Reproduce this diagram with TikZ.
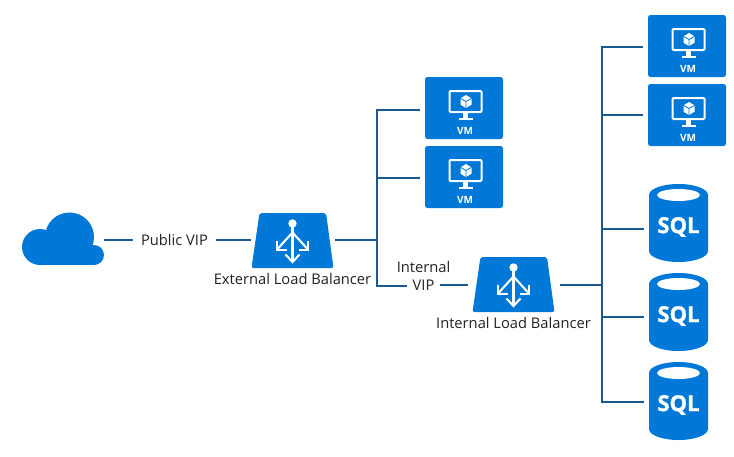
\documentclass[tikz,border=0pt]{standalone}
\usepackage{fontspec}
\setmainfont{Open Sans}
\usetikzlibrary{arrows.meta}
\definecolor{azure}{HTML}{0078D7}
\definecolor{wire}{HTML}{1A5A8E}
\definecolor{labeltext}{HTML}{222222}
\tikzset{
  wireline/.style={draw=wire,line width=1.9pt},
  vmbox/.style={fill=azure,rounded corners=2.5pt,minimum width=78pt,minimum height=62pt,inner sep=0pt,outer xsep=5pt,outer ysep=0pt},
  vmlabel/.style={text=white,font=\bfseries\fontsize{10}{11}\selectfont,inner sep=0pt},
  glyph/.style={draw=white,line width=2pt},
  sqlhold/.style={minimum width=59pt,minimum height=78pt,inner sep=0pt,outer xsep=5pt,outer ysep=0pt},
  sqlword/.style={text=white,font=\bfseries\fontsize{22}{24}\selectfont\addfontfeatures{FakeBold=1.2},inner sep=0pt},
  lbhold/.style={minimum width=82pt,minimum height=55pt,inner sep=0pt,outer sep=1pt},
  lbarrow/.style={draw=white,line width=2.1pt},
  caption/.style={text=labeltext,font=\fontsize{14.7}{16}\selectfont,inner sep=0pt},
  viplabel/.style={caption,inner xsep=7.5pt}
}
\newcommand{\vmglyph}[1]{%
  \begin{scope}[shift={(#1.center)}]
    \draw[glyph,rounded corners=1pt] (-14.5,-17) rectangle (17.5,4);
    \fill[white] (-.8,4) rectangle (3.8,10);
    \fill[white] (-5.5,9.5) rectangle (9,12);
    \fill[white] (2,-13) -- (7.5,-9.7) -- (7.5,-3.3) -- (2,0) -- (-3.5,-3.3) -- (-3.5,-9.7) -- cycle;
    \draw[azure,line width=.8pt] (-3.5,-9.7) -- (2,-6.5) -- (7.5,-9.7) (2,-6.5) -- (2,0);
  \end{scope}}
\newcommand{\sqlglyph}[1]{%
  \begin{scope}[shift={(#1.center)}]
    \fill[azure] (-29.5,-28) arc[start angle=180,end angle=360,x radius=29.5,y radius=11]
      -- (29.5,28) arc[start angle=0,end angle=180,x radius=29.5,y radius=11] -- cycle;
    \fill[white] (0,-28) ellipse[x radius=21.5,y radius=6];
  \end{scope}}
\newcommand{\lbglyph}[1]{%
  \begin{scope}[shift={(#1.center)}]
    \fill[azure,rounded corners=2pt] (-33,-27.5) -- (33.5,-27.5) -- (41,27.5) -- (-41,27.5) -- cycle;
    \fill[white] (0,-17) circle[radius=4.2];
    \draw[lbarrow] (0,-16) -- (0,21);
    \draw[lbarrow] (0,-8) -- (-15,8.5) (0,-8) -- (15,8.5);
    \draw[lbarrow] (-7,14) -- (0,21.5) -- (7,14);
    \draw[lbarrow] (-15.5,0) -- (-15.5,9.5) -- (-6,9.5);
    \draw[lbarrow] (15.5,0) -- (15.5,9.5) -- (6,9.5);
  \end{scope}}
\begin{document}
\begin{tikzpicture}[x=1pt,y=-1pt]
\useasboundingbox (0,0) rectangle (734,456);
% cloud
\node[minimum width=82pt,minimum height=52pt,inner sep=0pt] (cloud) at (63,239.5) {};
\fill[azure] (69.5,237) circle[radius=24.5];
\fill[azure] (40,247) circle[radius=18];
\fill[azure] (94,255) circle[radius=10];
\fill[azure] (40,245) rectangle (94,265);
% load balancers
\node[lbhold] (extlb) at (292.5,240.5) {};
\lbglyph{extlb}
\node[caption] (extcap) at (292.5,279) {External Load Balancer};
\node[lbhold,outer xsep=5pt] (intlb) at (513.5,284.5) {};
\lbglyph{intlb}
\node[caption] (intcap) at (513.5,323) {Internal Load Balancer};
% labels
\node[viplabel] (pubvip) at (174.5,240) {Public VIP};
\node[caption] (intword) at (423.5,267) {Internal};
\node[viplabel,inner xsep=5pt] (intvip) at (423.5,285.5) {VIP};
% VMs
\node[vmbox] (vma) at (464,108) {};
\node[vmbox] (vmb) at (464,177) {};
\node[vmbox] (vmc) at (687,46) {};
\node[vmbox] (vmd) at (687,115) {};
\vmglyph{vma}\vmglyph{vmb}\vmglyph{vmc}\vmglyph{vmd}
\node[vmlabel] (lva) at (465,131) {VM};
\node[vmlabel] (lvb) at (465,200) {VM};
\node[vmlabel] (lvc) at (688,69) {VM};
\node[vmlabel] (lvd) at (688,138) {VM};
% SQL
\node[sqlhold] (sqla) at (678.5,223) {};
\node[sqlhold] (sqlb) at (678.5,312) {};
\node[sqlhold] (sqlc) at (678.5,401) {};
\sqlglyph{sqla}\sqlglyph{sqlb}\sqlglyph{sqlc}
\node[sqlword] (wa) at (678.5,227) {SQL};
\node[sqlword] (wb) at (678.5,316) {SQL};
\node[sqlword] (wc) at (678.5,405) {SQL};
% junctions
\coordinate (ta) at (377,110);
\coordinate (tb) at (377,178);
\coordinate (tc) at (377,240);
\coordinate (td) at (377,286);
\coordinate (ra) at (602,47);
\coordinate (rb) at (602,115);
\coordinate (rc) at (602,229);
\coordinate (rd) at (602,285);
\coordinate (re) at (602,317);
\coordinate (rf) at (602,402);
% connectors
\draw[wireline] (cloud.east |- pubvip) -- (pubvip.west);
\draw[wireline] (pubvip.east) -- (extlb.west |- pubvip);
\draw[wireline] (extlb.east |- tc) -- (tc);
\draw[wireline,line cap=rect] (ta) -- (td);
\draw[wireline] (ta) -- (vma.west |- ta);
\draw[wireline] (tb) -- (vmb.west |- tb);
\draw[wireline] (td) -- (intvip.west |- td);
\draw[wireline] (intvip.east |- rd) -- (intlb.west |- rd);
\draw[wireline] (intlb.east |- rd) -- (rd);
\draw[wireline,line cap=rect] (ra) -- (rf);
\draw[wireline] (ra) -- (vmc.west |- ra);
\draw[wireline] (rb) -- (vmd.west |- rb);
\draw[wireline] (rc) -- (sqla.west |- rc);
\draw[wireline] (re) -- (sqlb.west |- re);
\draw[wireline] (rf) -- (sqlc.west |- rf);
\end{tikzpicture}
\end{document}
